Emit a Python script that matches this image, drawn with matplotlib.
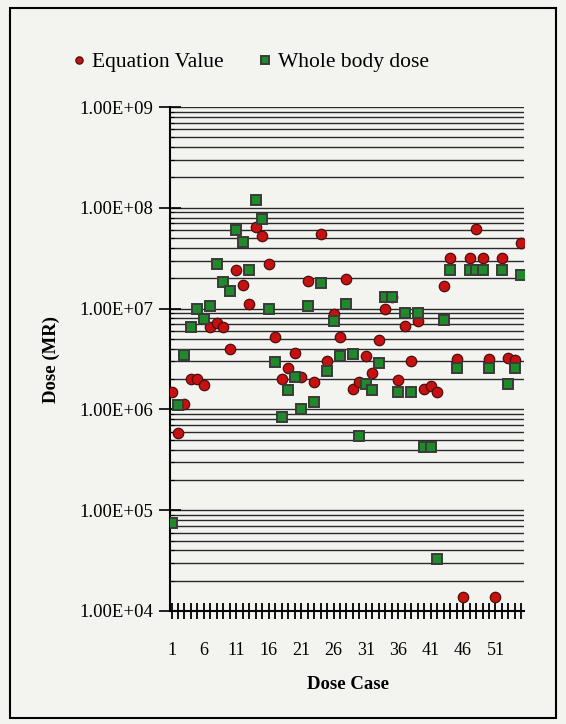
import numpy as np
import matplotlib
matplotlib.use("Agg")
import matplotlib.pyplot as plt
from matplotlib.ticker import FixedLocator, LogLocator, FuncFormatter, NullFormatter
from matplotlib.patches import Rectangle

plt.rcParams['font.family'] = ['Liberation Serif', 'DejaVu Serif']

# dose cases 1..55
cases = np.arange(1, 56)

# Equation Value (red circles)
equation_value = [1.48e6, 5.8e5, 1.12e6, 2.0e6, 2.0e6, 1.76e6, 6.6e6, 7.2e6, 6.6e6, 4.0e6,
                  2.4e7, 1.7e7, 1.1e7, 6.5e7, 5.2e7, 2.8e7, 5.2e6, 2.0e6, 2.6e6, 3.6e6,
                  2.1e6, 1.9e7, 1.86e6, 5.5e7, 3.0e6, 8.9e6, 5.2e6, 1.95e7, 1.6e6, 1.86e6,
                  3.4e6, 2.3e6, 4.9e6, 1.0e7, 1.3e7, 1.95e6, 6.7e6, 3.0e6, 7.6e6, 1.6e6,
                  1.7e6, 1.5e6, 1.67e7, 3.2e7, 3.15e6, 1.38e4, 3.2e7, 6.1e7, 3.2e7, 3.15e6,
                  1.38e4, 3.2e7, 3.2e6, 3.1e6, 4.5e7]

# Whole body dose (green squares)
whole_body = [7.4e4, 1.1e6, 3.5e6, 6.6e6, 1.0e7, 7.9e6, 1.05e7, 2.8e7, 1.85e7, 1.5e7,
              6.0e7, 4.6e7, 2.4e7, 1.2e8, 7.7e7, 1.0e7, 2.95e6, 8.5e5, 1.55e6, 2.1e6,
              1.0e6, 1.05e7, 1.18e6, 1.8e7, 2.4e6, 7.6e6, 3.4e6, 1.1e7, 3.55e6, 5.4e5,
              1.8e6, 1.55e6, 2.9e6, 1.3e7, 1.3e7, 1.48e6, 9.0e6, 1.48e6, 9.1e6, 4.2e5,
              4.2e5, 3.3e4, 7.7e6, 2.4e7, 2.6e6, np.nan, 2.4e7, 2.4e7, 2.4e7, 2.6e6,
              np.nan, 2.4e7, 1.8e6, 2.6e6, 2.15e7]

label_cases = [1, 6, 11, 16, 21, 26, 31, 36, 41, 46, 51]

bg = '#f3f3f0'
fig = plt.figure(figsize=(5.66, 7.24), dpi=100, facecolor=bg)
ax = fig.add_axes([0.3004, 0.1561, 0.6254, 0.6961])
ax.set_facecolor(bg)

ax.set_yscale('log')
ax.set_ylim(1e4, 1e9)
ax.set_xlim(0.77, 55.4)

# horizontal gridlines at every 1..9 x 10^n
ax.yaxis.set_major_locator(LogLocator(base=10, numticks=10))
ax.yaxis.set_minor_locator(LogLocator(base=10, subs=np.arange(2, 10), numticks=20))
ax.yaxis.set_minor_formatter(NullFormatter())
ax.yaxis.set_major_formatter(FuncFormatter(lambda v, p: f"{v:.2E}"))
ax.grid(True, axis='y', which='both', color='#2a2a2a', lw=1.0)
ax.set_axisbelow(True)

ax.plot(cases, equation_value, 'o', ls='none', ms=7.5, mfc='#c81010', mec='#4a0f0f',
        mew=0.9, label='Equation Value', zorder=3)
ax.plot(cases, whole_body, 's', ls='none', ms=7.3, mfc='#1e8a2a', mec='#3a3a3a',
        mew=1.4, label='Whole body dose', zorder=4)

ax.xaxis.set_major_locator(FixedLocator(cases))
ax.set_xticklabels([str(c) if c in label_cases else '' for c in cases])
ax.tick_params(axis='x', which='major', direction='inout', length=11, width=1.3,
               pad=17, labelsize=13, colors='black')
ax.tick_params(axis='y', which='major', direction='inout', length=16, width=1.2,
               labelsize=13.5, pad=4)
ax.tick_params(axis='y', which='minor', direction='in', length=3, width=0.8)

for s in ['top', 'right']:
    ax.spines[s].set_visible(False)
for s in ['left', 'bottom']:
    ax.spines[s].set_linewidth(1.5)
    ax.spines[s].set_color('black')

fig.text(0.615, 0.054, 'Dose Case', ha='center', va='center', fontsize=13.5,
         fontweight='bold')
fig.text(0.090, 0.503, 'Dose (MR)', ha='center', va='center', rotation=90,
         fontsize=13.5, fontweight='bold')

fig.legend(loc='center left', bbox_to_anchor=(0.088, 0.914), ncol=2, frameon=False,
           fontsize=15.5, handletextpad=0.15, columnspacing=1.5, markerscale=0.7,
           handlelength=0.9)

fig.patches.append(Rectangle((10 / 566, 1 - 718 / 724), 546 / 566, 710 / 724,
                             transform=fig.transFigure, fill=False, ec='black', lw=1.5))

fig.savefig('out.png', dpi=100, facecolor=bg)
